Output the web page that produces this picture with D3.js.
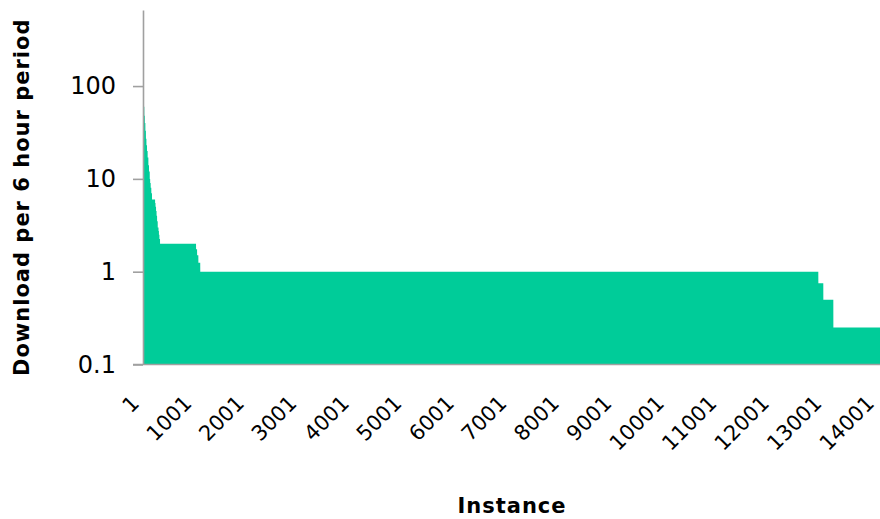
<!DOCTYPE html>
<html>
<head>
<meta charset="utf-8">
<script src="https://cdn.jsdelivr.net/npm/d3@7"></script>
<style>
  body { margin: 0; background: #fff; }
  svg { display: block; }
</style>
</head>
<body>
<svg id="chart" width="880" height="519"></svg>
<script>
// Downloads per 6 hour period for each instance, sorted in descending order.
// Stored as runs: runValues[i] repeats for runCounts[i] consecutive instances.
const runValues = [120, 90, 75, 65, 60, 48, 40, 33, 27, 23, 20, 17, 14, 12, 10, 9, 8, 7, 6,
                   5.5, 5, 4.5, 4, 3.5, 3, 2.75, 2.5, 2.25, 2, 1.75, 1.5, 1.25, 1, 0.75, 0.5, 0.25];
const runCounts = [1, 3, 6, 8, 8, 10, 10, 10, 10, 11, 12, 14, 12, 14, 8, 10, 12, 13, 59,
                   8, 10, 10, 10, 12, 15, 8, 9, 12, 686, 20, 24, 36, 11773, 95, 191, 901];

const xTickLabels = [1, 1001, 2001, 3001, 4001, 5001, 6001, 7001, 8001, 9001, 10001, 11001, 12001, 13001, 14001];
const yTickValues = [0.1, 1, 10, 100];

const yTitle = "Download per 6 hour period";
const xTitle = "Instance";

// Expand the runs into one point per instance
const points = [];
runValues.forEach((v, i) => {
  for (let k = 0; k < runCounts[i]; k++) {
    points.push({ instance: points.length + 1, value: v });
  }
});

const svg = d3.select("#chart");
const fill = "#00cc99";
const axisColor = "#a0a0a0";
const fontFamily = "'DejaVu Sans', Verdana, sans-serif";

const x = d3.scaleLinear().domain([1, 14001]).range([143, 878]);
const y = d3.scaleLog().domain([0.1, 660]).range([364.5, 10]);

// Area filled down to the bottom of the log axis
const area = d3.area()
  .x(d => x(d.instance))
  .y0(y(0.1))
  .y1(d => y(d.value));

svg.append("path")
  .datum(points)
  .attr("d", area)
  .attr("fill", fill);

// Y axis
const yAxis = svg.append("g")
  .attr("transform", `translate(${x(1)},0)`)
  .call(d3.axisLeft(y).tickValues(yTickValues).tickSize(10).tickSizeOuter(0).tickPadding(17)
    .tickFormat(d => d3.format("~g")(d)));
yAxis.select(".domain").attr("stroke", axisColor).attr("stroke-width", 1.6);
yAxis.selectAll(".tick line").attr("stroke", axisColor).attr("stroke-width", 1.6);
yAxis.selectAll(".tick text")
  .attr("font-family", fontFamily)
  .attr("font-size", 24)
  .attr("fill", "#000");

// X axis (labels only, rotated)
const xAxis = svg.append("g")
  .attr("transform", `translate(0,${y(0.1)})`)
  .call(d3.axisBottom(x).tickValues(xTickLabels).tickSize(0).tickSizeOuter(0).tickFormat(d => String(d)));
xAxis.select(".domain").attr("stroke", axisColor).attr("stroke-width", 1.6)
  .attr("d", `M${x(1) - 10},0H880`);
xAxis.selectAll(".tick text")
  .attr("font-family", fontFamily)
  .attr("font-size", 21)
  .attr("fill", "#000")
  .attr("text-anchor", "end")
  .attr("dy", null)
  .attr("y", null)
  .attr("transform", "translate(-3,40) rotate(-45)");

// Axis titles
svg.append("text")
  .attr("transform", `translate(29,${(y(0.1) + 10) / 2 + 10}) rotate(-90)`)
  .attr("text-anchor", "middle")
  .attr("font-family", fontFamily)
  .attr("font-weight", "bold")
  .attr("font-size", 21)
  .attr("letter-spacing", 1)
  .text(yTitle);

svg.append("text")
  .attr("x", 512)
  .attr("y", 513)
  .attr("text-anchor", "middle")
  .attr("font-family", fontFamily)
  .attr("font-weight", "bold")
  .attr("font-size", 21)
  .attr("letter-spacing", 1)
  .text(xTitle);
</script>
</body>
</html>
